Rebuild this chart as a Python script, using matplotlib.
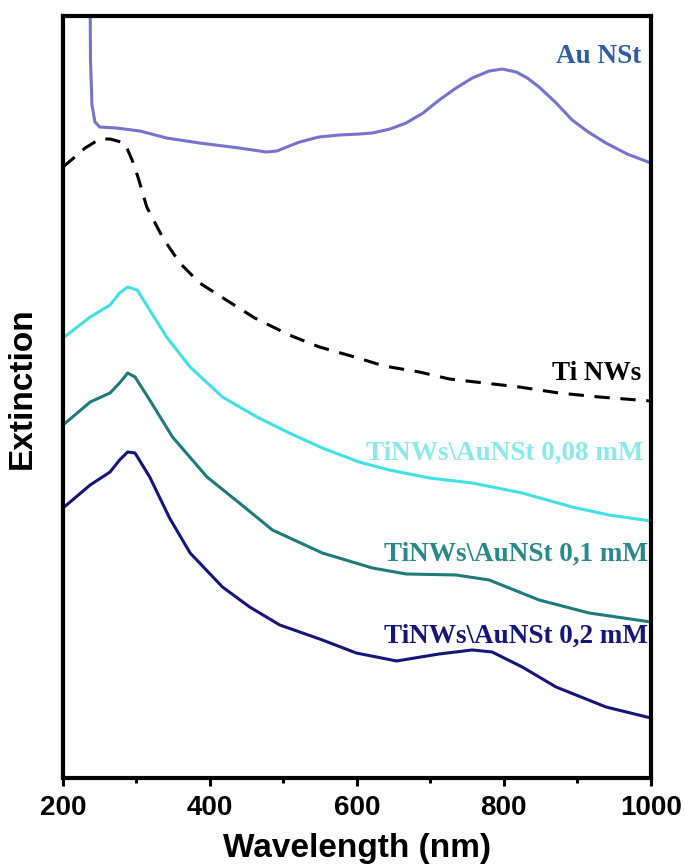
import numpy as np
import matplotlib
matplotlib.use("Agg")
import matplotlib.pyplot as plt
from matplotlib.ticker import MultipleLocator

# wavelength (nm) / extinction (a.u.)
wl_au = [236.7, 237.4, 239.4, 243.5, 250, 273, 305, 341, 386, 440, 477, 491, 508, 522,
         548, 576, 603, 621, 645, 667, 690, 712, 735, 757, 780, 798, 817, 832, 848, 870,
         893, 915, 939, 968, 1000]
ext_au = [8.0, 7.18, 6.73, 6.56, 6.51, 6.50, 6.47, 6.40, 6.35, 6.30, 6.26, 6.27, 6.32, 6.36,
          6.41, 6.43, 6.44, 6.45, 6.49, 6.55, 6.65, 6.78, 6.90, 7.00, 7.07, 7.09, 7.06,
          7.00, 6.91, 6.76, 6.58, 6.46, 6.35, 6.24, 6.15]

wl_ti = [200, 216, 230, 250, 264, 284, 294, 302, 314, 336, 359, 386, 420, 461, 508,
         549, 597, 637, 685, 726, 821, 875, 930, 1000]
ext_ti = [6.11, 6.21, 6.30, 6.39, 6.39, 6.35, 6.18, 6.01, 5.71, 5.40, 5.15, 4.95, 4.79,
          4.60, 4.43, 4.31, 4.21, 4.12, 4.06, 3.99, 3.91, 3.85, 3.81, 3.77]

wl_008 = [200, 237, 264, 277, 288, 301, 318, 341, 373, 417, 464, 508, 553, 603, 644,
          699, 757, 825, 893, 943, 1000]
ext_008 = [4.40, 4.61, 4.73, 4.85, 4.91, 4.88, 4.68, 4.41, 4.11, 3.81, 3.61, 3.45, 3.30,
           3.16, 3.08, 3.00, 2.95, 2.85, 2.71, 2.63, 2.57]

wl_01 = [200, 237, 264, 277, 288, 298, 318, 349, 396, 440, 485, 553, 621, 667, 735,
         780, 848, 916, 1000]
ext_01 = [3.53, 3.76, 3.85, 3.95, 4.05, 4.01, 3.78, 3.41, 3.01, 2.75, 2.48, 2.25, 2.10,
          2.04, 2.03, 1.98, 1.78, 1.65, 1.56]

wl_02 = [200, 237, 264, 277, 288, 298, 318, 345, 373, 417, 454, 495, 553, 599, 654,
         712, 757, 784, 825, 871, 939, 1000]
ext_02 = [2.70, 2.93, 3.06, 3.18, 3.26, 3.25, 3.01, 2.60, 2.25, 1.91, 1.71, 1.53, 1.38,
          1.25, 1.17, 1.24, 1.28, 1.26, 1.11, 0.91, 0.71, 0.60]

labels = ["Au NSt", "Ti NWs", "TiNWs\\AuNSt 0,08 mM", "TiNWs\\AuNSt 0,1 mM",
          "TiNWs\\AuNSt 0,2 mM"]

fig = plt.figure(figsize=(6.85, 8.67), dpi=100)
ax = fig.add_axes([0.092, 0.1027, 0.858, 0.8788])

lw = 2.2
ax.plot(wl_au, ext_au, color="#7474cc", lw=lw, solid_joinstyle="round")
ax.plot(wl_ti, ext_ti, color="black", lw=lw, dashes=(5, 3.5))
ax.plot(wl_008, ext_008, color="#42e0e4", lw=lw, solid_joinstyle="round")
ax.plot(wl_01, ext_01, color="#1f7a7a", lw=lw, solid_joinstyle="round")
ax.plot(wl_02, ext_02, color="#16167a", lw=lw, solid_joinstyle="round")

serif = ["Liberation Serif", "DejaVu Serif"]
txt = dict(ha="right", va="center", fontsize=19.5, fontweight="bold", family=serif,
           transform=ax.transAxes)
ax.text(0.983, 0.947, labels[0], color="#2f5fa0", **txt)
ax.text(0.983, 0.531, labels[1], color="black", **txt)
ax.text(0.987, 0.4265, labels[2], color="#8aeaea", **txt)
ax.text(0.996, 0.294, labels[3], color="#2a8888", **txt)
ax.text(0.996, 0.186, labels[4], color="#16167a", **txt)

ax.set_xlim(200, 1000)
ax.set_ylim(0, 7.62)
ax.xaxis.set_major_locator(MultipleLocator(200))
ax.xaxis.set_minor_locator(MultipleLocator(100))
ax.set_yticks([])
for s in ax.spines.values():
    s.set_linewidth(3)
ax.tick_params(axis="x", which="major", direction="out", length=6, width=2.2, pad=6)
ax.tick_params(axis="x", which="minor", direction="out", length=3.5, width=2.2)
sans = ["Liberation Sans", "DejaVu Sans"]
for t in ax.get_xticklabels():
    t.set_family(sans)
    t.set_fontweight("bold")
    t.set_fontsize(20)

# axis titles placed by hand, close to the source layout
fig.text(0.521, 0.012, "Wavelength (nm)", ha="center", va="baseline", fontsize=24,
         fontweight="bold", family=sans)
fig.text(0.033, 0.5525, "Extinction", ha="center", va="center", rotation=90,
         fontsize=24, fontweight="bold", family=sans)

fig.savefig("out.png", dpi=100)
